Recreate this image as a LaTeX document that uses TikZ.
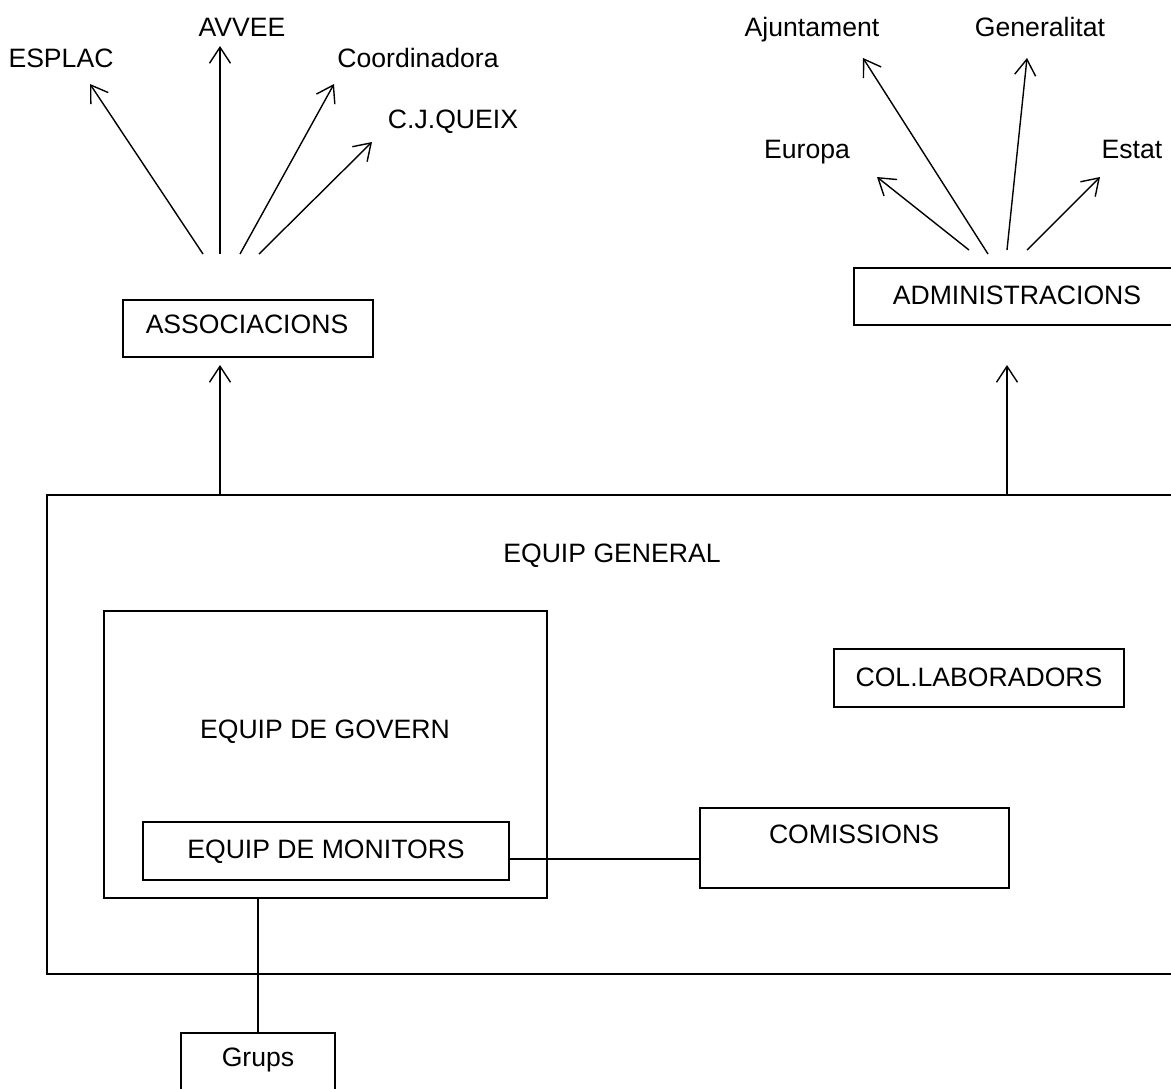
\documentclass[tikz,border=0pt]{standalone}
\usepackage{fontspec}
\setmainfont{Liberation Sans}
\usetikzlibrary{arrows.meta}
\begin{document}
\begin{tikzpicture}[x=1pt,y=-1pt,
  box/.style={draw, line width=1.6pt, inner sep=0pt, rectangle},
  lbl/.style={anchor=base, inner sep=0pt, font=\fontsize{26.6}{31}\selectfont},
  arr/.style={line width=1.4pt, -{Straight Barb[length=16pt,width=21pt,line width=1.4pt]}},
  ln/.style={line width=1.4pt}]
\useasboundingbox (0,0) rectangle (1171,1088);
\clip (0,0) rectangle (1171,1088);
\fill[white] (0,0) rectangle (1171,1088);

% boxes
\node[box, minimum width=250pt, minimum height=57pt] (assoc) at (248,328.5) {};
\node[box, minimum width=326pt, minimum height=57pt] (admin) at (1017,296.5) {};
\node[box, minimum width=1138pt, minimum height=479pt] (gen) at (616,734.5) {};
\node[box, minimum width=443pt, minimum height=287pt] (gov) at (325.5,754.5) {};
\node[box, minimum width=366pt, minimum height=58pt] (mon) at (326,851) {};
\node[box, minimum width=309pt, minimum height=80pt] (com) at (854.5,848) {};
\node[box, minimum width=290pt, minimum height=58pt] (colab) at (979,678) {};
\node[box, minimum width=154pt, minimum height=77pt] (grups) at (258,1071.5) {};

% box labels
\node[lbl] (assoc-t) at (247,333) {ASSOCIACIONS};
\node[lbl] (admin-t) at (1017,304) {ADMINISTRACIONS};
\node[lbl] (gen-t) at (612,562) {EQUIP GENERAL};
\node[lbl] (gov-t) at (325,738) {EQUIP DE GOVERN};
\node[lbl] (mon-t) at (326,858) {EQUIP DE MONITORS};
\node[lbl] (com-t) at (854,843) {COMISSIONS};
\node[lbl] (colab-t) at (979,686) {COL.LABORADORS};
\node[lbl] (grups-t) at (258,1066) {Grups};

% free labels
\node[lbl] (esplac) at (61,67) {ESPLAC};
\node[lbl] (avvee) at (242,36) {AVVEE};
\node[lbl] (coord) at (418,67) {Coordinadora};
\node[lbl] (cjq) at (453,128) {C.J.QUEIX};
\node[lbl] (ajunt) at (812,36) {Ajuntament};
\node[lbl] (genera) at (1040,36) {Generalitat};
\node[lbl] (europa) at (807,158) {Europa};
\node[lbl] (estat) at (1132,158) {Estat};

% arrow coordinates
\coordinate (s1) at (203,254);   \coordinate (t1) at (90,84);
\coordinate (s2) at (220,254);   \coordinate (t2) at (220,46);
\coordinate (s3) at (240,254);   \coordinate (t3) at (334,84);
\coordinate (s4) at (259,254);   \coordinate (t4) at (372,142);
\coordinate (r1) at (969,250);   \coordinate (u1) at (877,177);
\coordinate (r2) at (988,254);   \coordinate (u2) at (863,58);
\coordinate (r3) at (1007,250);  \coordinate (u3) at (1027,58);
\coordinate (r4) at (1027,250);  \coordinate (u4) at (1100,177);
\coordinate (ain) at (220,365);
\coordinate (din) at (1007,365);

\draw[arr] (s1) -- (t1);
\draw[arr] (s2) -- (t2);
\draw[arr] (s3) -- (t3);
\draw[arr] (s4) -- (t4);
\draw[arr] (r1) -- (u1);
\draw[arr] (r2) -- (u2);
\draw[arr] (r3) -- (u3);
\draw[arr] (r4) -- (u4);

\draw[arr] (gen.north -| ain) -- (ain);
\draw[arr] (gen.north -| din) -- (din);

\draw[ln] ([yshift=-8pt]mon.east) -- ([yshift=-8pt]mon.east -| com.west);
\draw[ln] (gov.south -| grups.north) -- (grups.north);
\end{tikzpicture}
\end{document}
